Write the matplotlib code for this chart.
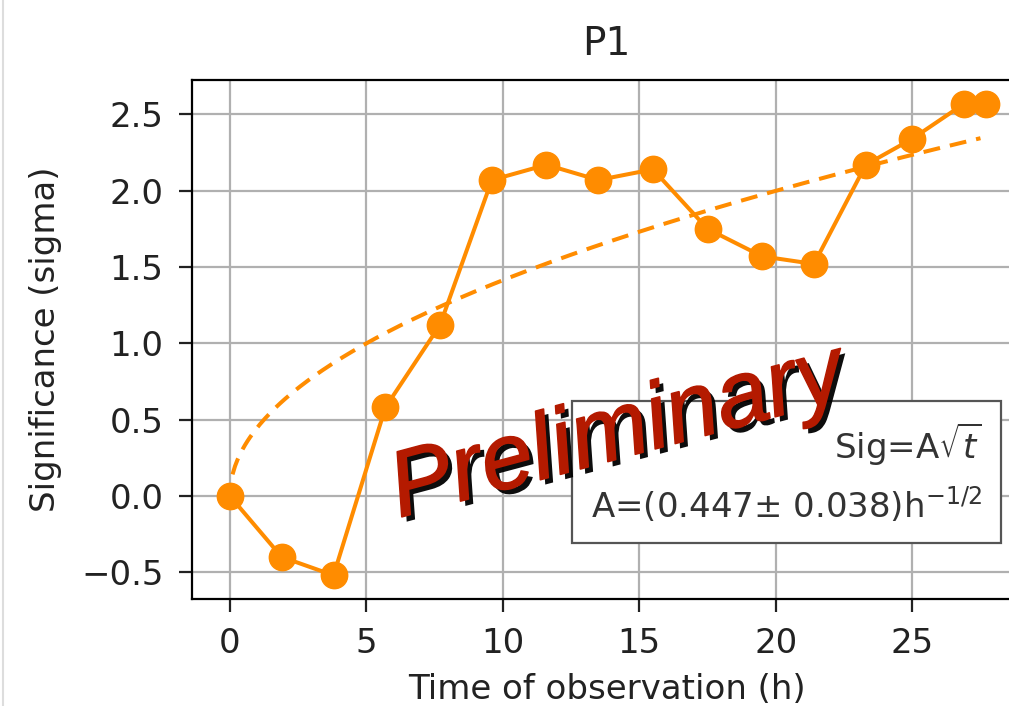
import numpy as np
import matplotlib
matplotlib.use("Agg")
import matplotlib.pyplot as plt
import matplotlib.patheffects as pe
from matplotlib.lines import Line2D

# observation times (h) and significance (sigma) for P1
time_h = [0.0, 1.9, 3.8, 5.7, 7.7, 9.6, 11.6, 13.5, 15.5, 17.5, 19.5, 21.4, 23.3, 25.0, 26.9, 27.7]
sig = [0.0, -0.40, -0.52, 0.58, 1.12, 2.07, 2.17, 2.07, 2.14, 1.75, 1.57, 1.52, 2.17, 2.34, 2.57, 2.57]

# fit Sig = A*sqrt(t)
fit_A = 0.447
fit_A_err = 0.038

orange = "#ff8c00"

fig = plt.figure(figsize=(10.09, 7.06), dpi=100)
ax = fig.add_axes([0.1903, 0.1516, 0.8216, 0.735])

ax.plot(time_h, sig, "-o", color=orange, lw=2.9, ms=19, zorder=3)
t_fit = np.linspace(0.1, 27.5, 300)
ax.plot(t_fit, fit_A * np.sqrt(t_fit), "--", color=orange, lw=2.9, dashes=(4.2, 2.5), zorder=3)

ax.set_xlim(-1.385, 28.985)
ax.set_ylim(-0.675, 2.725)
ax.set_xticks([0, 5, 10, 15, 20, 25])
ax.set_yticks([-0.5, 0.0, 0.5, 1.0, 1.5, 2.0, 2.5])
ax.grid(True, color="#b0b0b0", lw=1.6)
ax.set_axisbelow(True)
for s in ax.spines.values():
    s.set_linewidth(1.6)
ax.tick_params(labelsize=24.5, width=1.6, length=9.4, pad=11, colors="#222222")

ax.set_title("P1", fontsize=28, pad=18, color="#222222")
ax.set_xlabel("Time of observation (h)", fontsize=24.5, labelpad=9, color="#222222")
ax.set_ylabel("Significance (sigma)", fontsize=24.5, labelpad=14, color="#222222")

# fit result box
box_txt = "Sig=A$\\sqrt{t}$\nA=(%.3f$\\pm$ %.3f)h$^{-1/2}$" % (fit_A, fit_A_err)
ax.text(0.953, 0.243, box_txt, transform=ax.transAxes, ha="right", va="center",
        fontsize=24.5, color="#333333", linespacing=1.5, zorder=4,
        bbox=dict(boxstyle="square,pad=0.55", fc="white", ec="#555555", lw=1.6))

# watermark
fig.text(0.612, 0.385, "Preliminary", fontsize=67, family="Liberation Sans", style="italic",
         color="#b41a00", rotation=15, ha="center", va="center", zorder=10,
         path_effects=[pe.withSimplePatchShadow(offset=(3.5, -3.5), shadow_rgbFace="black", alpha=0.95),
                       pe.withStroke(linewidth=1.2, foreground="#b41a00")])

fig.add_artist(Line2D([0.003, 0.003], [0, 1], color="#dddddd", lw=1.5, transform=fig.transFigure))

fig.savefig("out.png", dpi=100)
